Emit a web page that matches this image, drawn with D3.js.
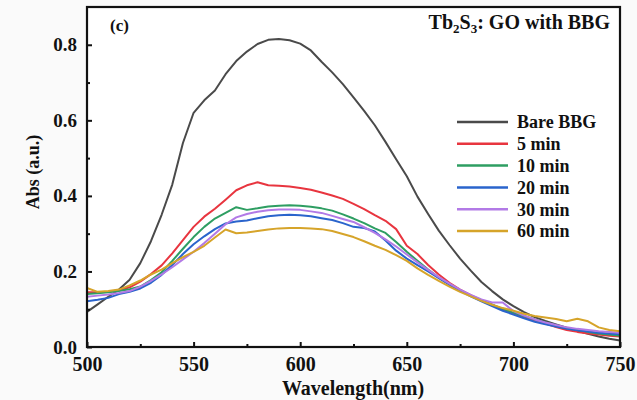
<!DOCTYPE html>
<html>
<head>
<meta charset="utf-8">
<script src="https://cdn.jsdelivr.net/npm/d3@7"></script>
<style>
  body { margin: 0; background: #fafafa; }
</style>
</head>
<body>
<svg id="chart"></svg>
<script>
// wavelength grid (nm)
const wavelengths = [500, 505, 510, 515, 520, 525, 530, 535, 540, 545, 550, 555, 560, 565, 570, 575, 580, 585, 590, 595,
  600, 605, 610, 615, 620, 625, 630, 635, 640, 645, 650, 655, 660, 665, 670, 675, 680, 685, 690, 695,
  700, 705, 710, 715, 720, 725, 730, 735, 740, 745, 750];

const bareBBG = [0.093, 0.113, 0.133, 0.152, 0.178, 0.222, 0.28, 0.35, 0.43, 0.54, 0.62, 0.653, 0.679, 0.722, 0.757, 0.782, 0.802, 0.813, 0.815, 0.812,
  0.803, 0.785, 0.755, 0.727, 0.696, 0.661, 0.625, 0.587, 0.543, 0.497, 0.452, 0.398, 0.352, 0.308, 0.27, 0.234, 0.202, 0.172, 0.148, 0.126,
  0.108, 0.092, 0.079, 0.069, 0.06, 0.051, 0.043, 0.035, 0.028, 0.022, 0.017];
const min5 = [0.145, 0.145, 0.146, 0.15, 0.158, 0.173, 0.193, 0.216, 0.248, 0.283, 0.318, 0.345, 0.366, 0.39, 0.415, 0.428, 0.436, 0.428, 0.427, 0.425,
  0.421, 0.416, 0.409, 0.401, 0.392, 0.379, 0.365, 0.349, 0.334, 0.312, 0.268, 0.246, 0.217, 0.192, 0.17, 0.152, 0.137, 0.124, 0.112, 0.1,
  0.09, 0.08, 0.071, 0.062, 0.053, 0.045, 0.04, 0.036, 0.033, 0.03, 0.028];
const min10 = [0.14, 0.142, 0.145, 0.148, 0.153, 0.16, 0.177, 0.198, 0.228, 0.26, 0.291, 0.318, 0.34, 0.355, 0.37, 0.363, 0.367, 0.372, 0.374, 0.375,
  0.374, 0.371, 0.367, 0.361, 0.351, 0.34, 0.328, 0.314, 0.302, 0.278, 0.252, 0.228, 0.205, 0.184, 0.166, 0.15, 0.136, 0.123, 0.112, 0.101,
  0.091, 0.082, 0.073, 0.065, 0.057, 0.05, 0.045, 0.04, 0.036, 0.033, 0.03];
const min20 = [0.121, 0.125, 0.13, 0.14, 0.146, 0.155, 0.17, 0.191, 0.217, 0.246, 0.272, 0.293, 0.312, 0.327, 0.332, 0.335, 0.341, 0.346, 0.349, 0.35,
  0.349, 0.346, 0.341, 0.336, 0.328, 0.318, 0.315, 0.306, 0.282, 0.255, 0.234, 0.217, 0.2, 0.182, 0.165, 0.149, 0.134, 0.121, 0.108, 0.096,
  0.086, 0.076, 0.067, 0.06, 0.054, 0.048, 0.044, 0.041, 0.038, 0.036, 0.034];
const min30 = [0.133, 0.136, 0.139, 0.143, 0.148, 0.16, 0.175, 0.192, 0.211, 0.232, 0.252, 0.275, 0.3, 0.325, 0.343, 0.352, 0.358, 0.362, 0.364, 0.364,
  0.363, 0.359, 0.355, 0.347, 0.339, 0.331, 0.317, 0.302, 0.285, 0.266, 0.245, 0.224, 0.204, 0.185, 0.168, 0.152, 0.138, 0.126, 0.118, 0.118,
  0.095, 0.083, 0.073, 0.065, 0.058, 0.052, 0.048, 0.045, 0.042, 0.04, 0.038];
const min60 = [0.156, 0.146, 0.148, 0.152, 0.163, 0.176, 0.192, 0.205, 0.222, 0.238, 0.252, 0.268, 0.29, 0.311, 0.301, 0.303, 0.307, 0.311, 0.314, 0.315,
  0.315, 0.314, 0.312, 0.307, 0.299, 0.291, 0.28, 0.268, 0.257, 0.243, 0.228, 0.208, 0.191, 0.175, 0.16, 0.146, 0.134, 0.122, 0.112, 0.103,
  0.096, 0.088, 0.082, 0.078, 0.074, 0.068, 0.075, 0.068, 0.052, 0.045, 0.042];

const seriesNames = ["Bare BBG", "5 min", "10 min", "20 min", "30 min", "60 min"];
const seriesValues = [bareBBG, min5, min10, min20, min30, min60];
const colors = ["#4a4a4a", "#e8353f", "#2e9e62", "#2a64cc", "#b27ae6", "#d6a42a"];

const xTicks = [500, 550, 600, 650, 700, 750];
const yTicks = [0.0, 0.2, 0.4, 0.6, 0.8];

const FONT = "'Liberation Serif', 'Times New Roman', serif";

const width = 637, height = 400;
const margin = { top: 7, right: 17, bottom: 53, left: 87 };

const svg = d3.select("#chart").attr("width", width).attr("height", height);

const x = d3.scaleLinear().domain([500, 750]).range([margin.left, width - margin.right]);
const y = d3.scaleLinear().domain([0, 0.9]).range([height - margin.bottom, margin.top]);

svg.append("rect")
  .attr("x", margin.left).attr("y", margin.top)
  .attr("width", x(750) - x(500)).attr("height", y(0) - y(0.9))
  .attr("fill", "#fff");

// curves
const line = d3.line()
  .x((d, i) => x(wavelengths[i]))
  .y(d => y(d));

svg.append("g")
  .selectAll("path")
  .data(seriesValues)
  .enter()
  .append("path")
  .attr("d", d => line(d))
  .attr("fill", "none")
  .attr("stroke", (d, i) => colors[i])
  .attr("stroke-width", 2)
  .attr("stroke-linejoin", "round");

// minor ticks
svg.append("g")
  .attr("transform", `translate(0,${y(0)})`)
  .call(d3.axisBottom(x).tickValues([525, 575, 625, 675, 725]).tickSizeInner(-3).tickSizeOuter(0).tickFormat(""));
svg.append("g")
  .attr("transform", `translate(${x(500)},0)`)
  .call(d3.axisLeft(y).tickValues([0.1, 0.3, 0.5, 0.7]).tickSizeInner(-3).tickSizeOuter(0).tickFormat(""));

// major axes
const xAxis = svg.append("g")
  .attr("transform", `translate(0,${y(0)})`)
  .call(d3.axisBottom(x).tickValues(xTicks).tickSizeInner(-5).tickSizeOuter(0).tickPadding(10).tickFormat(d3.format("d")));
xAxis.attr("font-family", FONT).attr("font-size", 20).attr("font-weight", "bold");

const yAxis = svg.append("g")
  .attr("transform", `translate(${x(500)},0)`)
  .call(d3.axisLeft(y).tickValues(yTicks).tickSizeInner(-5).tickSizeOuter(0).tickPadding(10).tickFormat(d3.format(".1f")));
yAxis.attr("font-family", FONT).attr("font-size", 19).attr("font-weight", "bold");

svg.selectAll(".tick text").attr("fill", "#111");
svg.selectAll(".tick line").attr("stroke", "#111").attr("stroke-width", 2);
svg.selectAll(".domain").remove();

// frame
svg.append("rect")
  .attr("x", x(500)).attr("y", y(0.9))
  .attr("width", x(750) - x(500)).attr("height", y(0) - y(0.9))
  .attr("fill", "none").attr("stroke", "#111").attr("stroke-width", 2.2);

const labels = svg.append("g")
  .attr("font-family", FONT).attr("font-weight", "bold").attr("fill", "#111");

// axis titles
labels.append("text")
  .attr("x", 353).attr("y", 395)
  .attr("text-anchor", "middle").attr("font-size", 20)
  .text("Wavelength(nm)");

labels.append("text")
  .attr("transform", `translate(39,172) rotate(-90)`)
  .attr("text-anchor", "middle").attr("font-size", 18)
  .text("Abs (a.u.)");

// panel label and title
labels.append("text").attr("x", 110).attr("y", 31).attr("font-size", 17).text("(c)");

const title = labels.append("text").attr("x", 610).attr("y", 29).attr("text-anchor", "end").attr("font-size", 20);
title.append("tspan").text("Tb");
title.append("tspan").attr("font-size", 13).attr("dy", 4).text("2");
title.append("tspan").attr("dy", -4).text("S");
title.append("tspan").attr("font-size", 13).attr("dy", 4).text("3");
title.append("tspan").attr("dy", -4).text(": GO with BBG");

// legend
const rows = labels.selectAll("g.leg")
  .data(seriesNames)
  .enter()
  .append("g")
  .attr("class", "leg")
  .attr("transform", (d, i) => `translate(457,${122 + i * 21.8})`);
rows.append("line")
  .attr("x1", 0).attr("x2", 51)
  .attr("stroke", (d, i) => colors[i])
  .attr("stroke-width", 2.5);
rows.append("text")
  .attr("x", 60).attr("dy", "0.35em")
  .attr("font-size", 18)
  .text(d => d);
</script>
</body>
</html>
